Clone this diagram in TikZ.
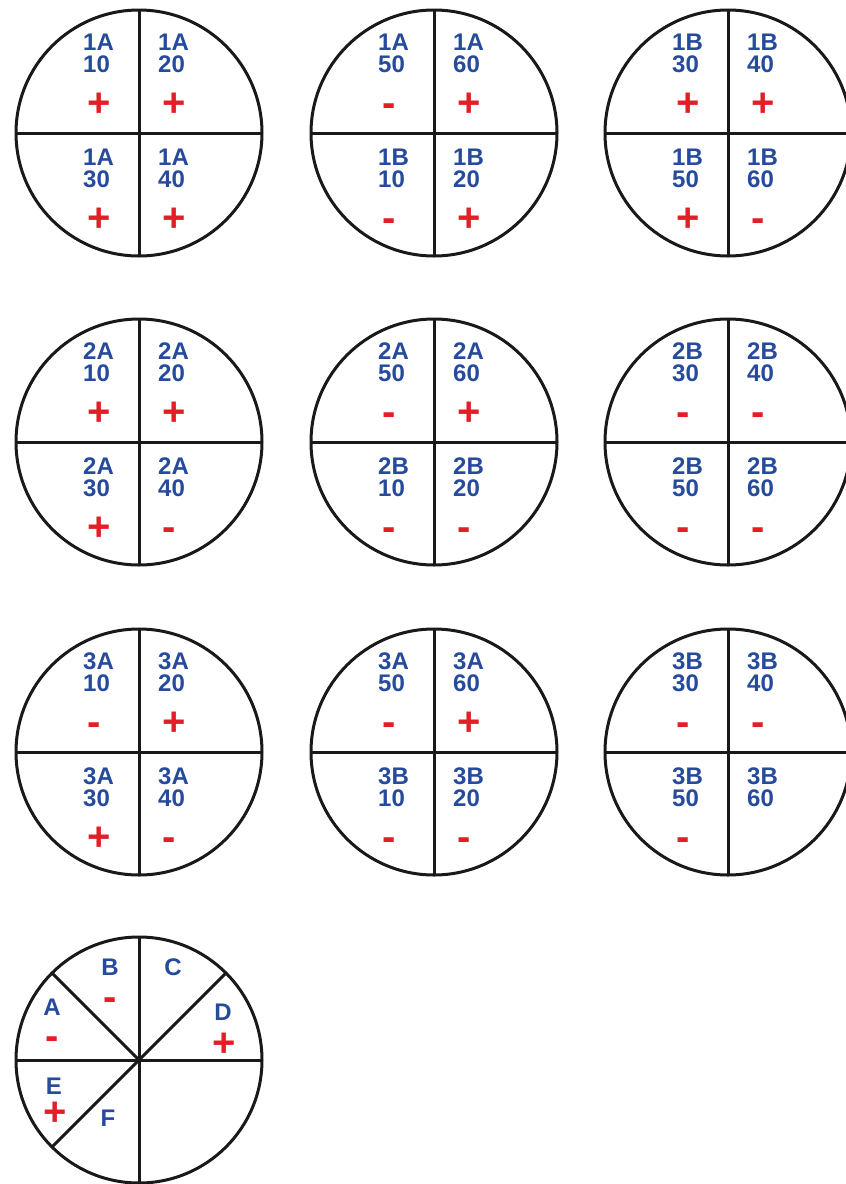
\documentclass[tikz,border=0pt]{standalone}
\usepackage{fontspec}
\setmainfont{Liberation Sans}
\usepackage{xcolor}
\usepackage{tikz}
\usetikzlibrary{positioning,calc}
\definecolor{labblue}{RGB}{38,74,156}
\definecolor{sgnred}{RGB}{226,30,38}
\tikzset{
  rim/.style={line width=3pt,black!90},
  lab/.style={font=\fontsize{24}{22}\selectfont\bfseries,text=labblue,inner sep=0pt,anchor=base west},
  sgn/.style={font=\fontsize{40}{40}\selectfont\bfseries,text=sgnred,inner sep=0pt,anchor=base west}
}

\begin{document}
\begin{tikzpicture}[x=1pt,y=-1pt]
  \useasboundingbox (0,0) rectangle (846,1184);
  \clip (0,0) rectangle (846,1184);
  \fill[white] (0,0) rectangle (846,1184);
  \foreach \cx/\cy [count=\k] in {139/133,434/133,728/133,139/442,434/442,728/442,139/752,434/752,728/752} {
    \coordinate (c\k) at (\cx,\cy);
    \draw[rim] (c\k) circle (123pt);
    \draw[rim] ([xshift=-123pt]c\k) -- ([xshift=123pt]c\k);
    \draw[rim] ([yshift=123pt]c\k) -- ([yshift=-123pt]c\k);
  }
  \foreach \cx/\cy/\qx/\qy/\pl/\nm/\sg [count=\i] in {
    139/133/-56/-83/1A/10/+, 139/133/19/-83/1A/20/+, 139/133/-56/32/1A/30/+, 139/133/19/32/1A/40/+,
    434/133/-56/-83/1A/50/-, 434/133/19/-83/1A/60/+, 434/133/-56/32/1B/10/-, 434/133/19/32/1B/20/+,
    728/133/-56/-83/1B/30/+, 728/133/19/-83/1B/40/+, 728/133/-56/32/1B/50/+, 728/133/19/32/1B/60/-,
    139/442/-56/-83/2A/10/+, 139/442/19/-83/2A/20/+, 139/442/-56/32/2A/30/+, 139/442/19/32/2A/40/-,
    434/442/-56/-83/2A/50/-, 434/442/19/-83/2A/60/+, 434/442/-56/32/2B/10/-, 434/442/19/32/2B/20/-,
    728/442/-56/-83/2B/30/-, 728/442/19/-83/2B/40/-, 728/442/-56/32/2B/50/-, 728/442/19/32/2B/60/-,
    139/752/-56/-83/3A/10/-, 139/752/19/-83/3A/20/+, 139/752/-56/32/3A/30/+, 139/752/19/32/3A/40/-,
    434/752/-56/-83/3A/50/-, 434/752/19/-83/3A/60/+, 434/752/-56/32/3B/10/-, 434/752/19/32/3B/20/-,
    728/752/-56/-83/3B/30/-, 728/752/19/-83/3B/40/-, 728/752/-56/32/3B/50/-, 728/752/19/32/3B/60/{}} {
    \node[lab] (pl\i) at (\cx+\qx,\cy+\qy) {\pl};
    \node[lab] (nm\i) at (\cx+\qx,\cy+\qy+22) {\nm};
    \node[sgn] (sg\i) at (\cx+\qx+4,\cy+\qy+66.5) {\sg};
  }
  \coordinate (hub) at (139,1060);
  \draw[rim] (hub) circle (123pt);
  \draw[rim] ([shift={(180:123pt)}]hub) -- ([shift={(0:123pt)}]hub);
  \draw[rim] ([shift={(90:123pt)}]hub) -- ([shift={(270:123pt)}]hub);
  \draw[rim] ([shift={(45:123pt)}]hub) -- ([shift={(225:123pt)}]hub);
  \draw[rim] ([shift={(135:123pt)}]hub) -- (hub);
  \node[lab,anchor=base] (secA) at (52,1015.5) {A};
  \node[sgn,anchor=base] (sgA) at (52,1049) {-};
  \node[lab,anchor=base] (secB) at (110,975.5) {B};
  \node[sgn,anchor=base] (sgB) at (110,1010) {-};
  \node[lab,anchor=base] (secC) at (173,975.5) {C};
  \node[lab,anchor=base] (secD) at (223,1020.5) {D};
  \node[sgn,anchor=base] (sgD) at (224,1056) {+};
  \node[lab,anchor=base] (secE) at (54,1094.5) {E};
  \node[sgn,anchor=base] (sgE) at (55,1125) {+};
  \node[lab,anchor=base] (secF) at (108,1126.5) {F};
\end{tikzpicture}
\end{document}
